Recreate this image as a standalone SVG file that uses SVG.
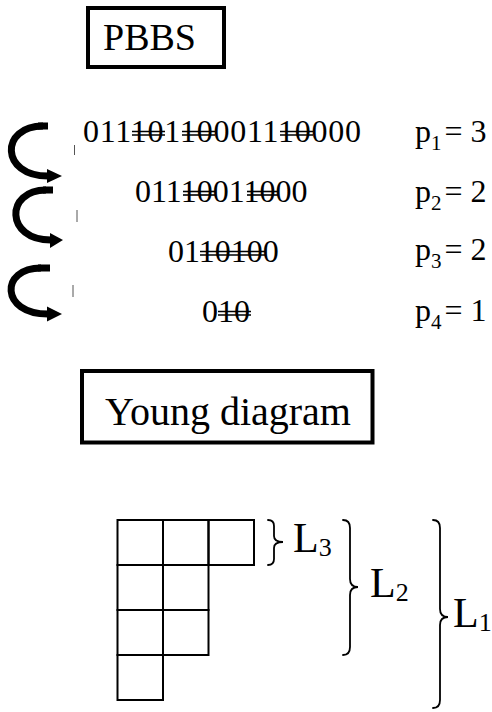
<svg xmlns="http://www.w3.org/2000/svg" width="492" height="712" viewBox="0 0 492 712">
<style>
text{font-family:"Liberation Serif","Times New Roman",serif;fill:#000}
.bin{font-size:32px}
.sub{font-size:21px}
.box{fill:none;stroke:#000;stroke-width:4}
.strike{stroke:#000;stroke-width:1.6}
.arc{fill:none;stroke:#000;stroke-width:7}
.tick{stroke:#555;stroke-width:1}
.cell{fill:none;stroke:#000;stroke-width:2}
.brace{fill:none;stroke:#000;stroke-width:1.8;stroke-linecap:round}
</style>

<g id="pbbs-title">
<rect class="box" x="88" y="8" width="136" height="59"/>
<text x="103" y="50" font-size="38">PBBS</text>
</g>

<g id="arrows">
<g id="arrow1">
<path class="arc" d="M43 126 C0 126 0 176 48 176"/>
<rect x="38" y="122.5" width="10" height="7"/>
<polygon points="47,169 62,176 47,183"/>
</g>
<g id="arrow2">
<path class="arc" d="M46 190 C5 190 5 240 51 240"/>
<rect x="43" y="186.5" width="10" height="7"/>
<polygon points="50,233 63,240 50,248"/>
</g>
<g id="arrow3">
<path class="arc" d="M41 268 C0 268 0 314 48 314"/>
<rect x="38" y="264.5" width="12" height="7"/>
<polygon points="47,306.5 62,314 47,321.5"/>
</g>
<line class="tick" x1="74.5" y1="145" x2="74.5" y2="155"/>
<line class="tick" x1="77" y1="210" x2="77" y2="222"/>
<line class="tick" x1="73" y1="285" x2="73" y2="297"/>
</g>

<g id="row1">
<text class="bin" x="83" y="142" textLength="278" lengthAdjust="spacing">01110110001110000</text>
<line class="strike" x1="132" y1="131.5" x2="165" y2="131.5"/><line class="strike" x1="132" y1="135" x2="165" y2="135"/>
<line class="strike" x1="182" y1="131.5" x2="215" y2="131.5"/><line class="strike" x1="182" y1="135" x2="215" y2="135"/>
<line class="strike" x1="280" y1="131.5" x2="313" y2="131.5"/><line class="strike" x1="280" y1="135" x2="313" y2="135"/>
<text x="415" y="142" font-size="32">p<tspan class="sub" dy="8">1</tspan><tspan dy="-8" dx="3">= 3</tspan></text>
</g>

<g id="row2">
<text class="bin" x="135" y="202">01110011000</text>
<line class="strike" x1="183" y1="191.5" x2="215" y2="191.5"/><line class="strike" x1="183" y1="195" x2="215" y2="195"/>
<line class="strike" x1="247" y1="191.5" x2="279" y2="191.5"/><line class="strike" x1="247" y1="195" x2="279" y2="195"/>
<text x="415" y="202" font-size="32">p<tspan class="sub" dy="8">2</tspan><tspan dy="-8" dx="3">= 2</tspan></text>
</g>

<g id="row3">
<text class="bin" x="168" y="262">0110100</text>
<line class="strike" x1="200" y1="251.5" x2="266" y2="251.5"/><line class="strike" x1="200" y1="255" x2="266" y2="255"/>
<text x="415" y="260" font-size="32">p<tspan class="sub" dy="8">3</tspan><tspan dy="-8" dx="3">= 2</tspan></text>
</g>

<g id="row4">
<text class="bin" x="202" y="322">010</text>
<line class="strike" x1="218" y1="311.5" x2="251" y2="311.5"/><line class="strike" x1="218" y1="315" x2="251" y2="315"/>
<text x="415" y="321" font-size="32">p<tspan class="sub" dy="8">4</tspan><tspan dy="-8" dx="3">= 1</tspan></text>
</g>

<g id="young-title">
<rect class="box" x="82" y="371" width="290.5" height="71.5"/>
<text x="105" y="425" font-size="40">Young diagram</text>
</g>

<g id="young-diagram">
<rect class="cell" x="117.5" y="520" width="45.5" height="45"/>
<rect class="cell" x="163" y="520" width="45.5" height="45"/>
<rect class="cell" x="208.5" y="520" width="45.5" height="45"/>
<rect class="cell" x="117.5" y="565" width="45.5" height="45"/>
<rect class="cell" x="163" y="565" width="45.5" height="45"/>
<rect class="cell" x="117.5" y="610" width="45.5" height="45"/>
<rect class="cell" x="163" y="610" width="45.5" height="45"/>
<rect class="cell" x="117.5" y="655" width="45.5" height="45"/>
</g>

<g id="L3">
<path class="brace" d="M268 520 Q274 520 274 526 L274 536 Q274 542 283 542 Q274 542 274 548 L274 559 Q274 565 268 565"/>
<text x="293" y="552" font-size="42">L<tspan font-size="26" dy="4">3</tspan></text>
</g>
<g id="L2">
<path class="brace" d="M343 520 Q350 520 350 528 L350 579 Q350 587 358 587 Q350 587 350 595 L350 647 Q350 655 343 655"/>
<text x="370" y="597" font-size="42">L<tspan font-size="26" dy="4">2</tspan></text>
</g>
<g id="L1">
<path class="brace" d="M433 520 Q440 520 440 528 L440 609 Q440 617 448 617 Q440 617 440 625 L440 700 Q440 708 433 708"/>
<text x="453" y="627" font-size="42">L<tspan font-size="26" dy="4">1</tspan></text>
</g>
</svg>
